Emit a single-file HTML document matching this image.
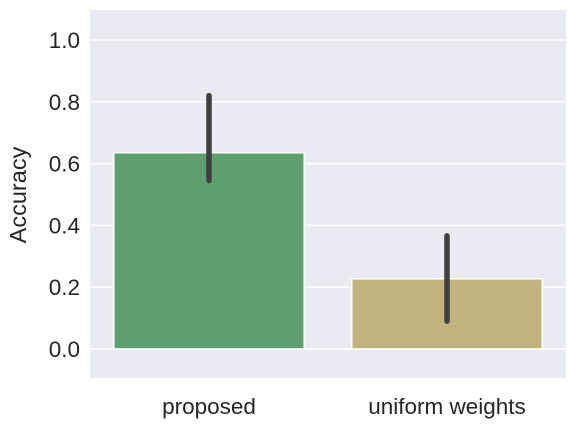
<!DOCTYPE html>
<html><head><meta charset="utf-8"><style>
html,body{margin:0;padding:0;background:#fff;}
svg{display:block;font-family:"Liberation Sans","DejaVu Sans",sans-serif;}
</style></head><body>
<svg id="chart" width="577" height="427">
<rect x="90" y="10" width="476" height="368" fill="#eaeaf2"/>
<g id="grid"></g><g id="bars"></g><g id="ticks"></g>
<text x="0" y="0" transform="translate(26,195) rotate(-90)" text-anchor="middle" font-size="23.5" fill="#262626">Accuracy</text>
</svg>
<script>
const categories = ["proposed", "uniform weights"];
const values = [0.635, 0.227];
const errLow = [0.545, 0.09];
const errHigh = [0.82, 0.366];
const yTicks = [0.0, 0.2, 0.4, 0.6, 0.8, 1.0];
const yTickLabels = ["0.0", "0.2", "0.4", "0.6", "0.8", "1.0"];
const colors = ["#5f9e6e", "#c1b37e"];

const NS = "http://www.w3.org/2000/svg";
const x0 = 90, x1 = 566, yTop = 10, yBot = 378, vMin = -0.094, vMax = 1.097;
function y(v){ return yBot - (v - vMin) / (vMax - vMin) * (yBot - yTop); }
const band = (x1 - x0) / categories.length;
function xc(i){ return x0 + band * (i + 0.5); }
function mk(tag, attrs, parent){ const e = document.createElementNS(NS, tag); for (const k in attrs) e.setAttribute(k, attrs[k]); parent.appendChild(e); return e; }
const grid = document.getElementById("grid"), bars = document.getElementById("bars"), ticks = document.getElementById("ticks");
yTicks.forEach((t, i) => {
  const l = mk("line", {x1: x0, x2: x1, y1: y(t), y2: y(t), stroke: "#fff", "stroke-width": 1.5}, grid);
  
  
  const tx = mk("text", {x: 80, y: y(t) + 8, "text-anchor": "end", "font-size": 22.5, fill: "#262626"}, ticks);
  tx.textContent = yTickLabels[i];
  
  
});
categories.forEach((c, i) => {
  const w = band * 0.8;
  const r = mk("rect", {x: xc(i) - w / 2, y: y(values[i]), width: w, height: y(0) - y(values[i]), fill: colors[i], stroke: "#fff", "stroke-width": 1.5}, bars);
  
  
  const e = mk("line", {x1: xc(i), x2: xc(i), y1: y(errLow[i]), y2: y(errHigh[i]), stroke: "#3f3f3f", "stroke-width": 5.5, "stroke-linecap": "round"}, bars);
  
  
  const tx = mk("text", {x: xc(i), y: 414, "text-anchor": "middle", "font-size": 22.5, fill: "#262626"}, ticks);
  tx.textContent = c;
  
  
});
</script>
</body></html>
